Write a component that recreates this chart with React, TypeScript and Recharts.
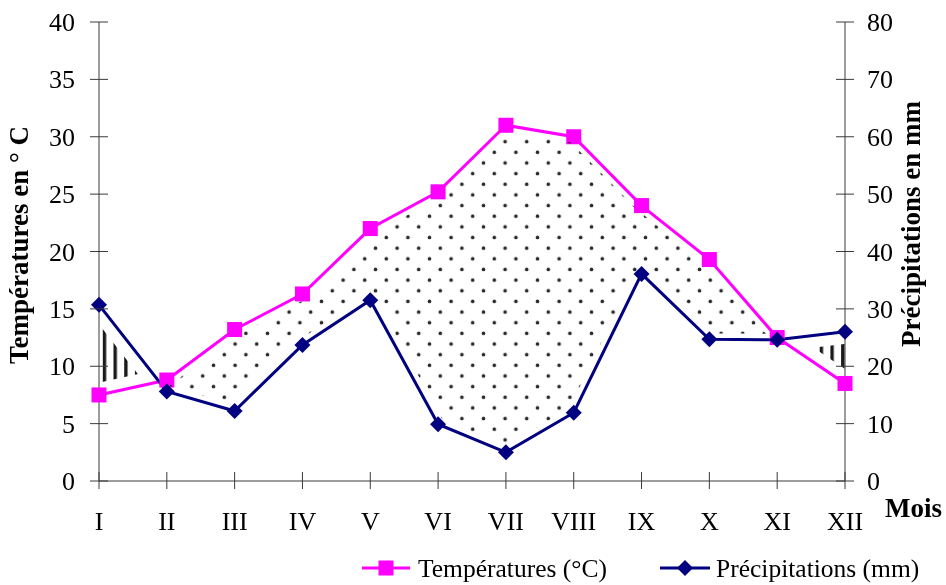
import React from 'react';
import { ComposedChart, Line, Area, XAxis, YAxis, Legend, Label } from 'recharts';

// Monthly climate values (Gaussen diagram: precipitation axis = 2 x temperature axis)
const months = ['I', 'II', 'III', 'IV', 'V', 'VI', 'VII', 'VIII', 'IX', 'X', 'XI', 'XII'];
const temperatures = [7.5, 8.8, 13.2, 16.3, 22.0, 25.2, 31.0, 30.0, 24.0, 19.3, 12.5, 8.5];
const precipitations = [30.7, 15.6, 12.2, 23.7, 31.5, 9.9, 5.0, 11.9, 36.1, 24.7, 24.6, 26.0];
const tempTicks = [0, 5, 10, 15, 20, 25, 30, 35, 40];
const precipTicks = [0, 10, 20, 30, 40, 50, 60, 70, 80];

const data = months.map((m, i) => ({ mois: m, temp: temperatures[i], precip: precipitations[i] }));

const W = 946;
const H = 585;
const FONT = '"Liberation Serif", "Times New Roman", serif';
const MAGENTA = '#ff00ff';
const NAVY = '#000080';
const AXIS = '#3a3a3a';

const LeftTick = ({ x, y, payload, ghost }: any) => {
  const ax = x + 24;
  return (
    <g>
      <line x1={ax - 9} x2={ax + 9} y1={y} y2={y} stroke={ghost ? 'none' : AXIS} />
      <text x={x} y={y + 9} textAnchor="end" fontFamily={FONT} fontSize={26} fill={ghost ? 'none' : '#000'}>
        {payload.value}
      </text>
    </g>
  );
};

const RightTick = ({ x, y, payload, ghost }: any) => {
  const ax = x - 22;
  return (
    <g>
      <line x1={ax - 9} x2={ax + 9} y1={y} y2={y} stroke={ghost ? 'none' : AXIS} />
      <text x={x} y={y + 9} textAnchor="start" fontFamily={FONT} fontSize={26} fill={ghost ? 'none' : '#000'}>
        {payload.value}
      </text>
    </g>
  );
};

const BottomTick = ({ x, y, payload, ghost }: any) => {
  const ay = y - 19;
  return (
    <g>
      <line x1={x} x2={x} y1={ay - 9} y2={ay + 8} stroke={ghost ? 'none' : AXIS} />
      <text x={x} y={y + 30} textAnchor="middle" fontFamily={FONT} fontSize={26} fill={ghost ? 'none' : '#000'}>
        {payload.value}
      </text>
    </g>
  );
};

const Square = (props: any) => {
  const { cx, cy, index } = props;
  if (cx == null || cy == null) return null;
  return <rect key={`sq-${index}`} x={cx - 7.5} y={cy - 7.5} width={15} height={15} fill={MAGENTA} />;
};

const Diamond = (props: any) => {
  const { cx, cy, index } = props;
  if (cx == null || cy == null) return null;
  return (
    <polygon
      key={`dm-${index}`}
      points={`${cx},${cy - 8} ${cx + 8},${cy} ${cx},${cy + 8} ${cx - 8},${cy}`}
      fill={NAVY}
    />
  );
};

const titleStyle = { fontFamily: FONT, fontSize: 27, fontWeight: 700 } as const;

const LegendBox = ({ ghost }: { ghost: boolean }) => (
  <svg width={W} height={30} style={{ display: 'block' }}>
    {!ghost && (
      <g fontFamily={FONT} fontSize={25.5}>
        <line x1={362} x2={410} y1={15} y2={15} stroke={MAGENTA} strokeWidth={3} />
        <rect x={378.5} y={7.5} width={15} height={15} fill={MAGENTA} />
        <text x={418} y={24}>Températures (°C)</text>
        <line x1={660} x2={710} y1={15} y2={15} stroke={NAVY} strokeWidth={3} />
        <polygon points="685,7 693,15 685,23 677,15" fill={NAVY} />
        <text x={716} y={24}>Précipitations (mm)</text>
      </g>
    )}
  </svg>
);

function ClimateChart({ layer }: { layer: 'dots' | 'main' }) {
  const ghost = layer === 'dots';
  const erase = ghost ? 12 : 24;
  const ink = (c: string) => (ghost ? 'none' : c);

  return (
    <ComposedChart width={W} height={H} data={data} margin={{ top: 22, right: 0, bottom: 2, left: 0 }}>
      <defs>
        <pattern id={`dots-${layer}`} patternUnits="userSpaceOnUse" x={2.9} y={8.6} width={21.6} height={21.3}>
          <rect width={21.6} height={21.3} fill="#fff" />
          <circle cx={5.4} cy={5.3} r={1.8} fill="#2a2a2a" />
          <circle cx={16.2} cy={15.95} r={1.8} fill="#2a2a2a" />
        </pattern>
        <pattern id={`stripes-${layer}`} patternUnits="userSpaceOnUse" x={6.5} y={0} width={10.7} height={10}>
          <rect width={10.7} height={10} fill="#fff" />
          <rect x={0} width={3.4} height={10} fill="#1a1a1a" />
        </pattern>
      </defs>

      {/* dry months (T above P/2) get dots, wet months (P/2 above T) get stripes */}
      <Area
        yAxisId={ghost ? 't' : 'p'}
        dataKey={ghost ? 'temp' : 'precip'}
        type="linear"
        stroke="none"
        fill={ghost ? `url(#dots-${layer})` : `url(#stripes-${layer})`}
        fillOpacity={1}
        dot={false}
        activeDot={false}
        legendType="none"
        isAnimationActive={false}
      />
      <Area
        yAxisId={ghost ? 'p' : 't'}
        dataKey={ghost ? 'precip' : 'temp'}
        type="linear"
        stroke="none"
        fill="#fff"
        fillOpacity={1}
        dot={false}
        activeDot={false}
        legendType="none"
        isAnimationActive={false}
      />
      <Line yAxisId="t" dataKey="temp" type="linear" stroke="#fff" strokeWidth={erase} strokeLinejoin="round"
        strokeLinecap="round" dot={false} activeDot={false} legendType="none" isAnimationActive={false} />
      <Line yAxisId="p" dataKey="precip" type="linear" stroke="#fff" strokeWidth={erase} strokeLinejoin="round"
        strokeLinecap="round" dot={false} activeDot={false} legendType="none" isAnimationActive={false} />

      <XAxis
        dataKey="mois"
        height={72}
        tickSize={9}
        tickMargin={10}
        tickLine={false}
        interval={0}
        axisLine={{ stroke: ink(AXIS) }}
        tick={<BottomTick ghost={ghost} />}
      >
        <Label
          content={() => (
            <text x={885} y={517} {...titleStyle} fill={ink('#000')}>Mois</text>
          )}
        />
      </XAxis>
      <YAxis
        yAxisId="t"
        orientation="left"
        width={99}
        domain={[0, 40]}
        ticks={tempTicks}
        interval={0}
        tickSize={9}
        tickMargin={15}
        tickLine={false}
        axisLine={{ stroke: ink(AXIS) }}
        tick={<LeftTick ghost={ghost} />}
      >
        <Label
          content={() => (
            <text x={28} y={245} transform="rotate(-90 28 245)" textAnchor="middle" {...titleStyle} fill={ink('#000')}>
              Températures en ° C
            </text>
          )}
        />
      </YAxis>
      <YAxis
        yAxisId="p"
        orientation="right"
        width={101}
        domain={[0, 80]}
        ticks={precipTicks}
        interval={0}
        tickSize={9}
        tickMargin={13}
        tickLine={false}
        axisLine={{ stroke: ink(AXIS) }}
        tick={<RightTick ghost={ghost} />}
      >
        <Label
          content={() => (
            <text x={920} y={224} transform="rotate(-90 920 224)" textAnchor="middle" {...titleStyle} fill={ink('#000')}>
              Précipitations en mm
            </text>
          )}
        />
      </YAxis>

      <Line
        yAxisId="t"
        dataKey="temp"
        name="Températures (°C)"
        type="linear"
        stroke={ink(MAGENTA)}
        strokeWidth={3}
        dot={ghost ? false : <Square />}
        activeDot={false}
        isAnimationActive={false}
      />
      <Line
        yAxisId="p"
        dataKey="precip"
        name="Précipitations (mm)"
        type="linear"
        stroke={ink(NAVY)}
        strokeWidth={3}
        dot={ghost ? false : <Diamond />}
        activeDot={false}
        isAnimationActive={false}
      />
      <Legend verticalAlign="bottom" align="center" content={() => <LegendBox ghost={ghost} />} />
    </ComposedChart>
  );
}

export default function App() {
  return (
    <div style={{ position: 'absolute', left: 0, top: 0, width: W, height: H, background: '#fff', fontFamily: FONT }}>
      <div style={{ position: 'absolute', left: 0, top: 0 }}>
        <ClimateChart layer="dots" />
      </div>
      <div style={{ position: 'absolute', left: 0, top: 0, mixBlendMode: 'multiply' }}>
        <ClimateChart layer="main" />
      </div>
    </div>
  );
}
